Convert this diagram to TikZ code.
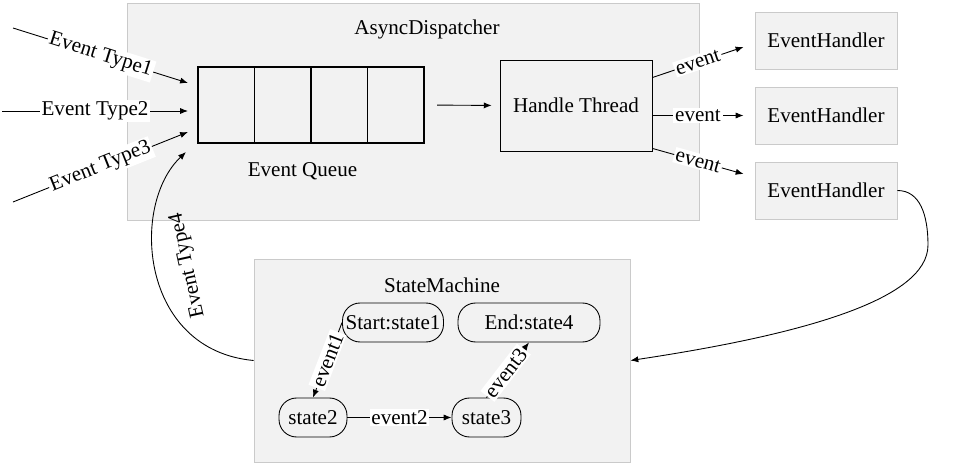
\documentclass[tikz,border=0pt]{standalone}
\usepackage{fontspec}
\setmainfont{Liberation Serif}
\usepackage{tikz}
\usetikzlibrary{%
  arrows.meta,%
  calc,%
  positioning%
}
\definecolor{panelfill}{HTML}{F2F2F2}
\definecolor{panelline}{HTML}{CACACA}

\begin{document}
\begin{tikzpicture}
[x=0.02cm, y=-0.02cm, draw=black, line width=0.5pt, font=\fontsize{12}{14}\selectfont,
panel/.style={rectangle, draw=panelline, fill=panelfill, inner sep=0pt},
cell/.style={rectangle, draw=black, line width=1pt, inner sep=0pt, minimum width=1.13cm, minimum height=1.52cm},
thread/.style={rectangle, draw=black, fill=panelfill, inner sep=0pt, minimum width=3.04cm, minimum height=1.82cm},
handler/.style={panel, minimum width=2.84cm, minimum height=1.14cm},
statebox/.style={rectangle, rounded corners=10pt, draw=black, fill=panelfill, inner sep=0pt, minimum height=0.78cm},
arr/.style={-{Latex[length=4.5pt,width=3.5pt]}},
lbl/.style={fill=white, inner sep=1pt, sloped}
]
\useasboundingbox (0,0) rectangle (958,470);

\node[panel, minimum width=11.44cm, minimum height=4.34cm] (asyncdispatcher) at (413,111.5) {};
\node (dispatchertitle) at (427,29) {AsyncDispatcher};

\node[panel, minimum width=7.52cm, minimum height=4.06cm] (statemachine) at (442,360.5) {};
\node (machinetitle) at (442,285) {StateMachine};

\node[cell] (queue1) at (226.25,105) {};
\node[cell] (queue2) at (282.75,105) {};
\node[cell] (queue3) at (339.25,105) {};
\node[cell] (queue4) at (395.75,105) {};
\node (eventqueue) at (302.5,171) {Event Queue};

\node[thread] (handlethread) at (576,105.5) {Handle Thread};

\node[handler] (handler1) at (826,40.5) {EventHandler};
\node[handler] (handler2) at (826,115.5) {EventHandler};
\node[handler] (handler3) at (826,190.5) {EventHandler};

\node[statebox, minimum width=2.02cm] (state1) at (393,322.5) {Start:state1};
\node[statebox, minimum width=2.84cm] (state4) at (529,322.5) {End:state4};
\node[statebox, minimum width=1.36cm] (state2) at (313,417.5) {state2};
\node[statebox, minimum width=1.38cm] (state3) at (486.5,417.5) {state3};

\coordinate (source1) at (13,28);
\coordinate (source2) at (2,111);
\coordinate (source3) at (13,202);
\coordinate (input1) at (188,83);
\coordinate (input2) at (188,111);
\coordinate (input3) at (188,132);
\coordinate (input4) at (186,152);

\draw[arr] (source1) -- node[lbl] {Event Type1} (input1);
\draw[arr] (source2) -- node[lbl] {Event Type2} (input2);
\draw[arr] (source3) -- node[lbl] {Event Type3} (input3);

\draw[arr, shorten <=7pt, shorten >=4.5pt] (queue4.east) -- (handlethread.west);

\draw[arr] ($(handlethread.east)+(0,-28)$) -- node[lbl] {event} ($(handler1.west)+(-11,6.5)$);
\draw[arr] (handlethread.east |- handler2) -- node[lbl] {event} ($(handler2.west)+(-11,0)$);
\draw[arr] ($(handlethread.south east)+(0,-3)$) -- node[lbl] {event} ($(handler3.west)+(-11,-16.5)$);

\draw[arr] (handler3.east) .. controls (920,190.5) and (928,215) .. (928,245)
  .. controls (928,300) and (800,335) .. (statemachine.east);

\draw[arr] (statemachine.west) .. controls (140,350) and (130,205) .. node[pos=0.5, sloped, allow upside down, below=12pt, inner sep=1pt] {Event Type4} (input4);

\draw[arr] (state1.west) -- node[lbl] {event1} (state2.north);
\draw[arr] (state2.east) -- node[lbl] {event2} (state3.west);
\draw[arr] (state3.north) -- node[lbl, pos=0.45] {event3} (state4.south);
\end{tikzpicture}
\end{document}
